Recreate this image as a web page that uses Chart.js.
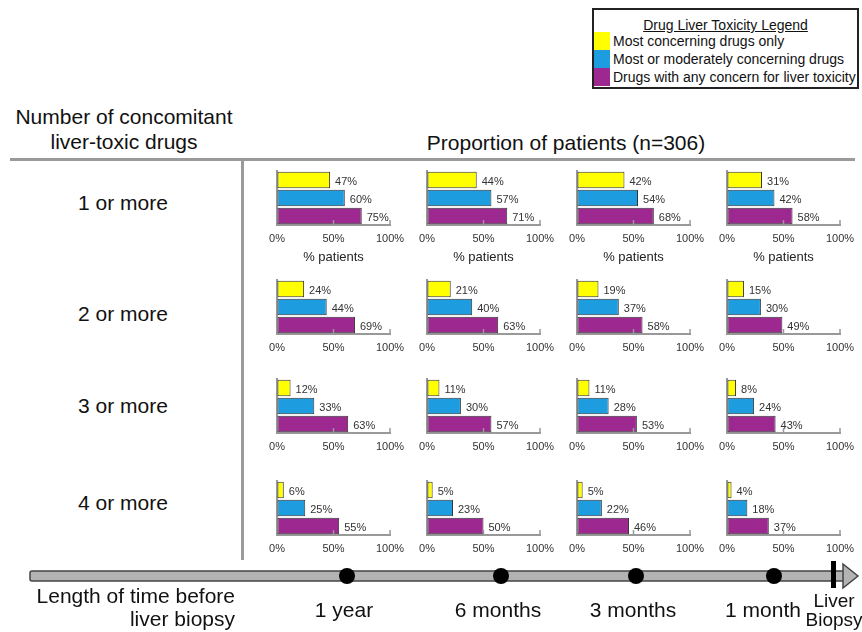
<!DOCTYPE html>
<html>
<head>
<meta charset="utf-8">
<script src="https://cdn.jsdelivr.net/npm/chart.js@4/dist/chart.umd.min.js"></script>
<style>
  html, body { margin: 0; padding: 0; background: #fff; }
  body { width: 862px; height: 632px; position: relative; overflow: hidden;
         font-family: "Liberation Sans", Arial, sans-serif; color: #111; }
  .abs { position: absolute; }
  .big { font-size: 21px; line-height: 25px; white-space: nowrap; }
  .center { transform: translateX(-50%); text-align: center; }
  canvas.panel { position: absolute; }
  #legend { left: 592px; top: 8px; width: 263px; height: 77px; border: 2px solid #222; font-size: 14px; }
  #legend .title { position: absolute; top: 7px; left: 0; width: 100%; text-align: center; text-decoration: underline; line-height: 16px; }
  #legend .row { position: absolute; left: 0; height: 18px; line-height: 18px; white-space: nowrap; }
  #legend .sw { display: inline-block; width: 16px; height: 18px; vertical-align: top; margin-right: 3px; }
</style>
</head>
<body>

<div id="legend" class="abs">
  <div class="title">Drug Liver Toxicity Legend</div>
</div>

<div class="abs big center" style="left:124px; top:104px;">Number of concomitant<br>liver-toxic drugs</div>
<div class="abs big center" style="left:566px; top:130px;">Proportion of patients (n=306)</div>

<div class="abs" style="left:10px; top:158px; width:845px; height:3px; background:#9a9a9a;"></div>
<div class="abs" style="left:241px; top:160px; width:3px; height:400px; background:#9a9a9a;"></div>

<div id="rowLabels"></div>
<div id="panels"></div>

<svg class="abs" style="left:0; top:0;" width="862" height="632">
  <rect x="30" y="571" width="815" height="10" rx="2" fill="#b3b3b3" stroke="#444" stroke-width="1.5"/>
  <polygon points="843,564 858,576 843,588" fill="#b3b3b3" stroke="#444" stroke-width="1.5"/>
  <rect x="831" y="561" width="5" height="27" fill="#000"/>
  <g id="timelineDots" fill="#000"></g>
</svg>

<div class="abs big" style="right:627px; top:584px; text-align:right; line-height:23px;">Length of time before<br>liver biopsy</div>
<div id="timeLabels"></div>
<div class="abs center" style="left:834px; top:591px; font-size:19px; line-height:19px; white-space:nowrap;">Liver<br>Biopsy</div>

<script>
// Time points before biopsy (columns) and concomitant drug counts (rows)
const timepoints = ['1 year', '6 months', '3 months', '1 month'];
const drugCounts = ['1 or more', '2 or more', '3 or more', '4 or more'];
const seriesNames = [
  'Most concerning drugs only',
  'Most or moderately concerning drugs',
  'Drugs with any concern for liver toxicity'
];
const seriesColors = ['#ffff00', '#1d9ddf', '#9d288f'];

// % of patients, one row per drug count, one column per time point
const mostConcerning = [
  [47, 44, 42, 31],
  [24, 21, 19, 15],
  [12, 11, 11, 8],
  [6, 5, 5, 4]
];
const mostOrModerate = [
  [60, 57, 54, 42],
  [44, 40, 37, 30],
  [33, 30, 28, 24],
  [25, 23, 22, 18]
];
const anyConcern = [
  [75, 71, 68, 58],
  [69, 63, 58, 49],
  [63, 57, 53, 43],
  [55, 50, 46, 37]
];
const tickLabels = ['0%', '50%', '100%'];
const axisTitle = '% patients';

// Panel layout (pixel grid of the small multiples)
const colZero = [277, 427, 577, 727];
const rowTop = [171, 280, 379, 481];
const rowLabelY = [190, 301, 393, 490];
const timeLabelX = [344, 498, 633, 763];
const dotX = [347, 501, 636, 774];
const AREA_W = 113, AREA_H = 54, PAD_L = 15, PAD_R = 22, PAD_T = 4;
const FONT = '"Liberation Sans", Arial, sans-serif';

// Legend rows
const legend = document.getElementById('legend');
seriesNames.forEach((name, i) => {
  const row = document.createElement('div');
  row.className = 'row';
  row.style.top = (22 + i * 18) + 'px';
  row.innerHTML = '<span class="sw" style="background:' + seriesColors[i] + '"></span>' + name;
  legend.appendChild(row);
});

// Row labels
const rl = document.getElementById('rowLabels');
drugCounts.forEach((t, r) => {
  const d = document.createElement('div');
  d.className = 'abs big center';
  d.style.left = '123px';
  d.style.top = rowLabelY[r] + 'px';
  d.textContent = t;
  rl.appendChild(d);
});

// Timeline labels and dots
const tl = document.getElementById('timeLabels');
timepoints.forEach((t, c) => {
  const d = document.createElement('div');
  d.className = 'abs big center';
  d.style.left = timeLabelX[c] + 'px';
  d.style.top = '597px';
  d.textContent = t;
  tl.appendChild(d);
  const dot = document.createElementNS('http://www.w3.org/2000/svg', 'circle');
  dot.setAttribute('cx', dotX[c]);
  dot.setAttribute('cy', 576);
  dot.setAttribute('r', 8);
  document.getElementById('timelineDots').appendChild(dot);
});

// Percent labels at the end of each bar
const valueLabels = {
  id: 'valueLabels',
  afterDatasetsDraw(chart) {
    const ctx = chart.ctx;
    const ds = chart.data.datasets[0];
    ctx.save();
    ctx.font = '11px ' + FONT;
    ctx.fillStyle = '#333';
    ctx.textBaseline = 'middle';
    ctx.textAlign = 'left';
    chart.getDatasetMeta(0).data.forEach((bar, i) => {
      ctx.fillText(ds.data[i] + '%', bar.x + 5, bar.y + 1.5);
    });
    ctx.restore();
  }
};

// Short upward tick marks on the value axis
const innerTicks = {
  id: 'innerTicks',
  afterDraw(chart) {
    const s = chart.scales.x;
    const ctx = chart.ctx;
    ctx.save();
    ctx.strokeStyle = '#999';
    ctx.lineWidth = 1.5;
    s.ticks.forEach(t => {
      if (t.value <= 0) return;
      const x = s.getPixelForValue(t.value);
      ctx.beginPath();
      ctx.moveTo(x, s.top);
      ctx.lineTo(x, s.top - 5);
      ctx.stroke();
    });
    ctx.restore();
  }
};

const panels = document.getElementById('panels');
drugCounts.forEach((_, r) => {
  timepoints.forEach((__, c) => {
    const axisH = r === 0 ? 44 : 24;
    const cv = document.createElement('canvas');
    cv.className = 'panel';
    cv.width = PAD_L + AREA_W + PAD_R;
    cv.height = PAD_T + AREA_H + axisH + 2;
    cv.style.left = (colZero[c] - PAD_L) + 'px';
    cv.style.top = (rowTop[r] - PAD_T) + 'px';
    panels.appendChild(cv);

    new Chart(cv, {
      type: 'bar',
      data: {
        labels: seriesNames,
        datasets: [{
          data: [mostConcerning[r][c], mostOrModerate[r][c], anyConcern[r][c]],
          backgroundColor: seriesColors,
          borderColor: '#333',
          borderWidth: 1,
          borderSkipped: false,
          barPercentage: 0.92,
          categoryPercentage: 1
        }]
      },
      options: {
        indexAxis: 'y',
        responsive: false,
        animation: false,
        devicePixelRatio: 1,
        layout: { padding: { left: PAD_L, right: PAD_R, top: PAD_T, bottom: 2 } },
        plugins: { legend: { display: false }, tooltip: { enabled: false } },
        scales: {
          x: {
            min: 0, max: 100,
            ticks: {
              stepSize: 50, autoSkip: false, maxRotation: 0, padding: 7,
              color: '#333', font: { size: 11, family: FONT },
              callback: (v, i) => tickLabels[i]
            },
            grid: { drawOnChartArea: false, drawTicks: false },
            border: { color: '#999', width: 2 },
            title: {
              display: r === 0, text: axisTitle, color: '#222',
              font: { size: 13, family: FONT }, padding: { top: 2, bottom: 4 }
            },
            afterFit: s => { s.height = axisH; }
          },
          y: {
            ticks: { display: false },
            grid: { drawOnChartArea: false, drawTicks: false },
            border: { color: '#999', width: 2 },
            afterFit: s => { s.width = 0; }
          }
        }
      },
      plugins: [valueLabels, innerTicks]
    });
  });
});
</script>
</body>
</html>
